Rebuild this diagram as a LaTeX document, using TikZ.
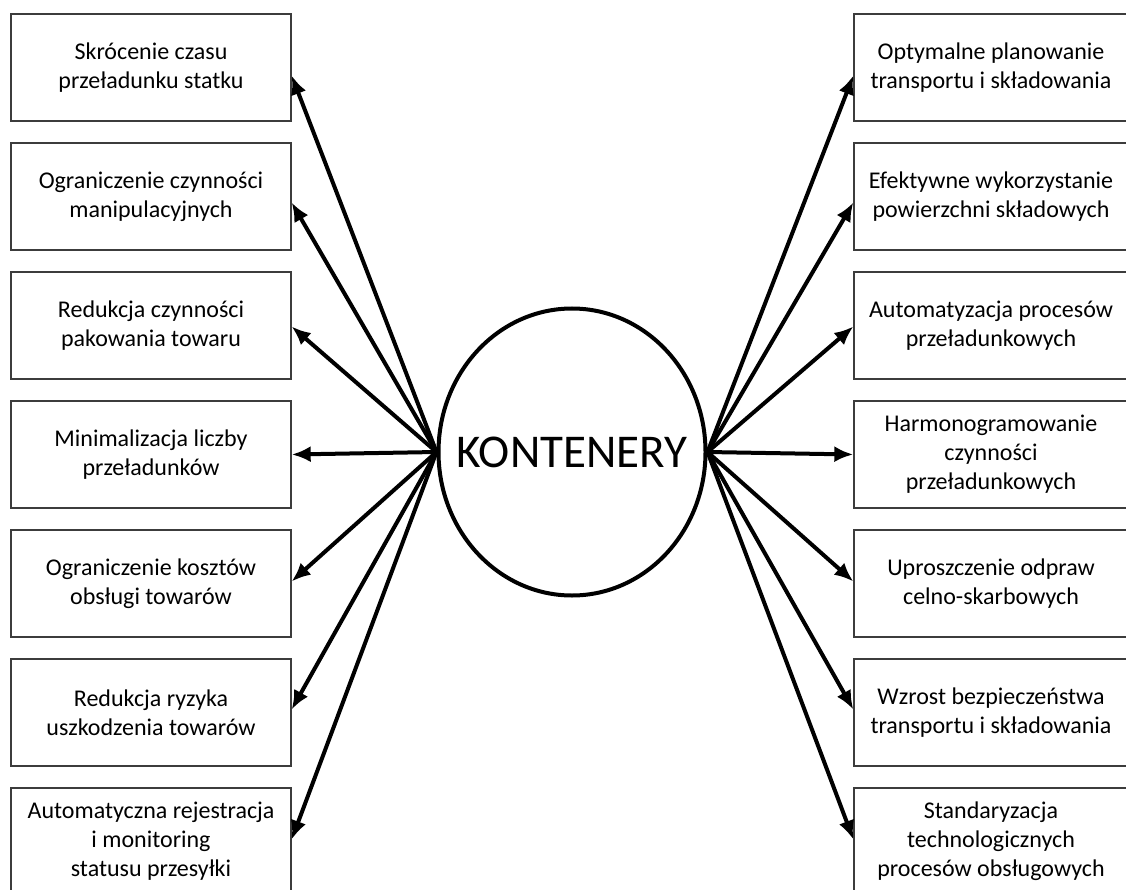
\documentclass[tikz,border=0pt]{standalone}
\usepackage{fontspec}
\setmainfont{Carlito}
\usetikzlibrary{arrows.meta,positioning,shapes.geometric}
\definecolor{boxgray}{RGB}{60,60,60}

\begin{document}
\begin{tikzpicture}[x=1pt,y=-1pt,
    every node/.style={font=\fontsize{24}{29}\selectfont},
    benefit/.style={draw=boxgray,line width=1.3pt,minimum width=280pt,minimum height=107pt,align=center,inner sep=2pt},
    benefitr/.style={benefit,minimum width=274pt},
    link/.style={line width=4pt,-{Latex[length=19pt,width=16pt]}},
    node distance=20.7pt]
  \useasboundingbox (0,0) rectangle (1126,890);
  \node[ellipse,draw,line width=4pt,minimum width=267pt,minimum height=287pt,inner sep=0pt] (kont) at (572,452) {};
  \node[font=\fontsize{47}{56}\selectfont] (kontlabel) at (kont.center) {KONTENERY};
  % left column
  \node[benefit] (l1) at (151,67.5) {Skrócenie czasu\\przeładunku statku};
  \node[benefit,below=of l1] (l2) {Ograniczenie czynności\\manipulacyjnych};
  \node[benefit,below=of l2] (l3) {Redukcja czynności\\pakowania towaru};
  \node[benefit,below=of l3] (l4) {Minimalizacja liczby\\przeładunków};
  \node[benefit,below=of l4] (l5) {Ograniczenie kosztów\\obsługi towarów};
  \node[benefit,below=of l5] (l6) {Redukcja ryzyka\\uszkodzenia towarów};
  \node[benefit,below=of l6] (l7) {Automatyczna rejestracja\\i monitoring\\statusu przesyłki};
  % right column
  \node[benefitr] (r1) at (991,67.5) {Optymalne planowanie\\transportu i składowania};
  \node[benefitr,below=of r1] (r2) {Efektywne wykorzystanie\\powierzchni składowych};
  \node[benefitr,below=of r2] (r3) {Automatyzacja procesów\\przeładunkowych};
  \node[benefitr,below=of r3] (r4) {Harmonogramowanie\\czynności\\przeładunkowych};
  \node[benefitr,below=of r4] (r5) {Uproszczenie odpraw\\celno-skarbowych};
  \node[benefitr,below=of r5] (r6) {Wzrost bezpieczeństwa\\transportu i składowania};
  \node[benefitr,below=of r6] (r7) {Standaryzacja\\technologicznych\\procesów obsługowych};
  \foreach \i/\dy in {1/-8,2/-6,3/-1,4/0,5/2,6/3,7/2} {
    \draw[link] (kont.west) -- ([yshift=\dy pt]l\i.east);
    \draw[link] (kont.east) -- ([yshift=\dy pt]r\i.west);
  }
\end{tikzpicture}
\end{document}
